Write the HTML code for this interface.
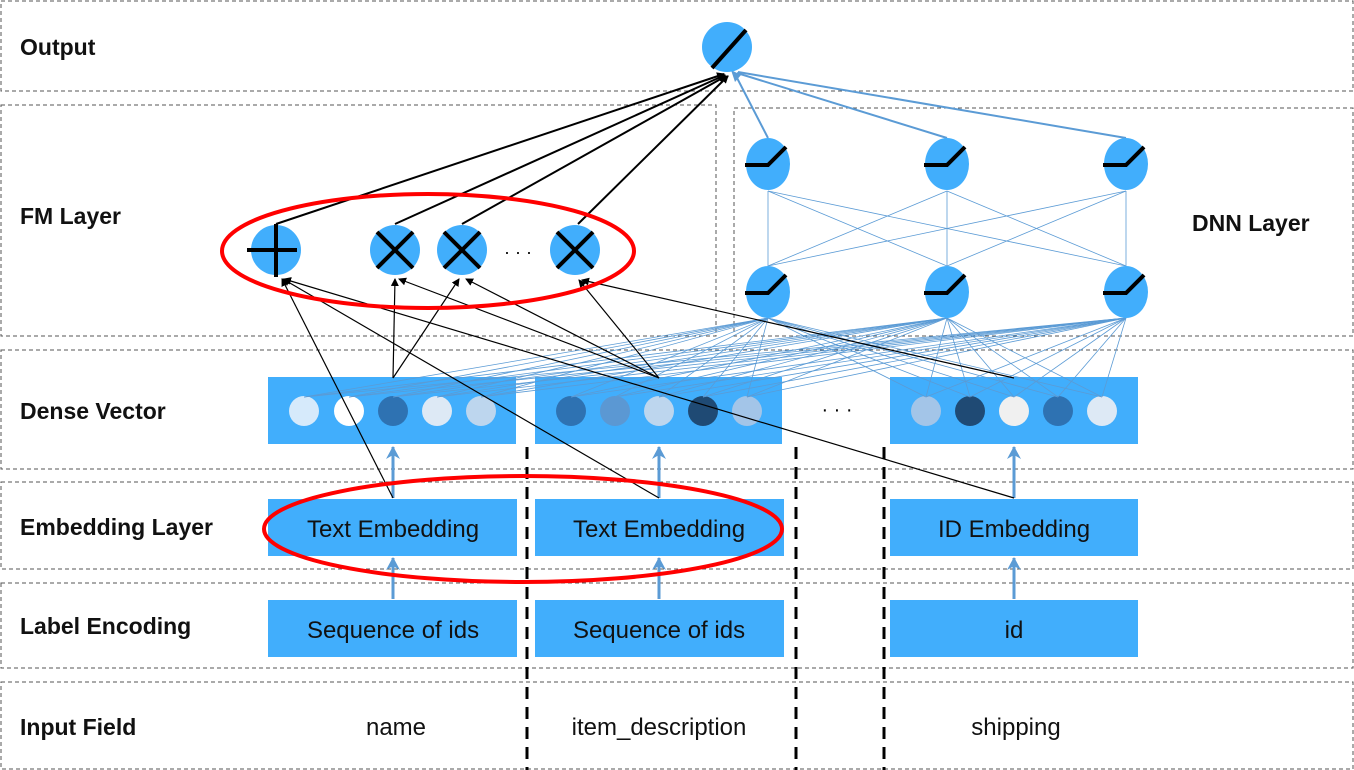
<!DOCTYPE html>
<html><head><meta charset="utf-8"><style>
html,body{margin:0;padding:0;background:#fff;}
svg{display:block;font-family:"Liberation Sans",sans-serif;}
.lab{font-size:23px;font-weight:bold;fill:#111;}
.bt{font-size:24px;fill:#111;text-anchor:middle;}
</style></head><body>
<svg width="1354" height="770" viewBox="0 0 1354 770" xmlns="http://www.w3.org/2000/svg">
<defs>
<marker id="ak" markerWidth="8" markerHeight="8" refX="7" refY="4" orient="auto" markerUnits="userSpaceOnUse"><path d="M0,0 L8,4 L0,8 z" fill="#000"/></marker>
<marker id="ab" markerWidth="14" markerHeight="14" refX="12" refY="7" orient="auto" markerUnits="userSpaceOnUse"><path d="M0,0 L13,7 L0,14 L4,7 z" fill="#5b9bd5"/></marker>
</defs>
<g fill="none" stroke="#555" stroke-width="1" stroke-dasharray="4,3">
<rect x="1" y="1" width="1352" height="90"/>
<rect x="1" y="105" width="715" height="231"/>
<rect x="734" y="108" width="619" height="228"/>
<rect x="1" y="350" width="1352" height="119"/>
<rect x="1" y="482" width="1352" height="87"/>
<rect x="1" y="583" width="1352" height="85"/>
<rect x="1" y="682" width="1352" height="87"/>
</g>
<g stroke="#000" stroke-width="3" stroke-dasharray="12,8">
<line x1="527" y1="447" x2="527" y2="770"/>
<line x1="796" y1="447" x2="796" y2="770"/>
<line x1="884" y1="447" x2="884" y2="770"/>
</g>
<text class="lab" x="20" y="55">Output</text>
<text class="lab" x="20" y="224">FM Layer</text>
<text class="lab" x="1192" y="231">DNN Layer</text>
<text class="lab" x="20" y="419">Dense Vector</text>
<text class="lab" x="20" y="535">Embedding Layer</text>
<text class="lab" x="20" y="634">Label Encoding</text>
<text class="lab" x="20" y="735">Input Field</text>
<!-- boxes -->
<g fill="#41aefc">
<rect x="268" y="377" width="248" height="67"/>
<rect x="535" y="377" width="247" height="67"/>
<rect x="890" y="377" width="248" height="67"/>
<rect x="268" y="499" width="249" height="57"/>
<rect x="535" y="499" width="249" height="57"/>
<rect x="890" y="499" width="248" height="57"/>
<rect x="268" y="600" width="249" height="57"/>
<rect x="535" y="600" width="249" height="57"/>
<rect x="890" y="600" width="248" height="57"/>
</g>
<g>
<circle cx="304" cy="411" r="15" fill="#d6eafb"/><circle cx="349" cy="411" r="15" fill="#fff"/><circle cx="393" cy="411" r="15" fill="#2e72b2"/><circle cx="437" cy="411" r="15" fill="#dde9f5"/><circle cx="481" cy="411" r="15" fill="#bdd6ee"/>
<circle cx="571" cy="411" r="15" fill="#2e72b2"/><circle cx="615" cy="411" r="15" fill="#5b98d3"/><circle cx="659" cy="411" r="15" fill="#bdd6ee"/><circle cx="703" cy="411" r="15" fill="#1f4a74"/><circle cx="747" cy="411" r="15" fill="#a3c5e8"/>
<circle cx="926" cy="411" r="15" fill="#a3c5e8"/><circle cx="970" cy="411" r="15" fill="#1f4a74"/><circle cx="1014" cy="411" r="15" fill="#f0f0f0"/><circle cx="1058" cy="411" r="15" fill="#2e72b2"/><circle cx="1102" cy="411" r="15" fill="#dde9f5"/>
</g>
<text x="837" y="416" font-size="20" text-anchor="middle" fill="#000">· · ·</text>
<text class="bt" x="393" y="537">Text Embedding</text>
<text class="bt" x="659" y="537">Text Embedding</text>
<text class="bt" x="1014" y="537">ID Embedding</text>
<text class="bt" x="393" y="638">Sequence of ids</text>
<text class="bt" x="659" y="638">Sequence of ids</text>
<text class="bt" x="1014" y="638">id</text>
<text class="bt" x="396" y="735">name</text>
<text class="bt" x="659" y="735">item_description</text>
<text class="bt" x="1016" y="735">shipping</text>
<!-- blue vertical arrows -->
<g stroke="#5b9bd5" stroke-width="3" marker-end="url(#ab)">
<line x1="393" y1="498" x2="393" y2="447"/><line x1="659" y1="498" x2="659" y2="447"/><line x1="1014" y1="498" x2="1014" y2="447"/>
<line x1="393" y1="599" x2="393" y2="558"/><line x1="659" y1="599" x2="659" y2="558"/><line x1="1014" y1="599" x2="1014" y2="558"/>
</g>
<!-- DNN dense connections -->
<g stroke="#5b9bd5" stroke-width="0.8">
<line x1="768" y1="318" x2="304" y2="397"/><line x1="768" y1="318" x2="349" y2="397"/><line x1="768" y1="318" x2="393" y2="397"/><line x1="768" y1="318" x2="437" y2="397"/><line x1="768" y1="318" x2="481" y2="397"/>
<line x1="768" y1="318" x2="571" y2="397"/><line x1="768" y1="318" x2="615" y2="397"/><line x1="768" y1="318" x2="659" y2="397"/><line x1="768" y1="318" x2="703" y2="397"/><line x1="768" y1="318" x2="747" y2="397"/>
<line x1="768" y1="318" x2="926" y2="397"/><line x1="768" y1="318" x2="970" y2="397"/><line x1="768" y1="318" x2="1014" y2="397"/><line x1="768" y1="318" x2="1058" y2="397"/><line x1="768" y1="318" x2="1102" y2="397"/>
<line x1="947" y1="318" x2="304" y2="397"/><line x1="947" y1="318" x2="349" y2="397"/><line x1="947" y1="318" x2="393" y2="397"/><line x1="947" y1="318" x2="437" y2="397"/><line x1="947" y1="318" x2="481" y2="397"/>
<line x1="947" y1="318" x2="571" y2="397"/><line x1="947" y1="318" x2="615" y2="397"/><line x1="947" y1="318" x2="659" y2="397"/><line x1="947" y1="318" x2="703" y2="397"/><line x1="947" y1="318" x2="747" y2="397"/>
<line x1="947" y1="318" x2="926" y2="397"/><line x1="947" y1="318" x2="970" y2="397"/><line x1="947" y1="318" x2="1014" y2="397"/><line x1="947" y1="318" x2="1058" y2="397"/><line x1="947" y1="318" x2="1102" y2="397"/>
<line x1="1126" y1="318" x2="304" y2="397"/><line x1="1126" y1="318" x2="349" y2="397"/><line x1="1126" y1="318" x2="393" y2="397"/><line x1="1126" y1="318" x2="437" y2="397"/><line x1="1126" y1="318" x2="481" y2="397"/>
<line x1="1126" y1="318" x2="571" y2="397"/><line x1="1126" y1="318" x2="615" y2="397"/><line x1="1126" y1="318" x2="659" y2="397"/><line x1="1126" y1="318" x2="703" y2="397"/><line x1="1126" y1="318" x2="747" y2="397"/>
<line x1="1126" y1="318" x2="926" y2="397"/><line x1="1126" y1="318" x2="970" y2="397"/><line x1="1126" y1="318" x2="1014" y2="397"/><line x1="1126" y1="318" x2="1058" y2="397"/><line x1="1126" y1="318" x2="1102" y2="397"/>
<line x1="768" y1="191" x2="768" y2="266"/><line x1="768" y1="191" x2="947" y2="266"/><line x1="768" y1="191" x2="1126" y2="266"/>
<line x1="947" y1="191" x2="768" y2="266"/><line x1="947" y1="191" x2="947" y2="266"/><line x1="947" y1="191" x2="1126" y2="266"/>
<line x1="1126" y1="191" x2="768" y2="266"/><line x1="1126" y1="191" x2="947" y2="266"/><line x1="1126" y1="191" x2="1126" y2="266"/>
</g>
<g stroke="#5b9bd5" stroke-width="2">
<line x1="768" y1="138" x2="735" y2="74"/><line x1="947" y1="138" x2="737" y2="73"/><line x1="1126" y1="138" x2="738" y2="72"/>
</g>
<path d="M731,70 L741,75 L735,82 z" fill="#5b9bd5"/>
<!-- FM to output black arrows -->
<g stroke="#000" stroke-width="2" marker-end="url(#ak)">
<line x1="276" y1="224" x2="724" y2="74"/><line x1="395" y1="224" x2="725" y2="75"/><line x1="462" y1="224" x2="726" y2="76"/><line x1="578" y1="224" x2="728" y2="76"/>
</g>
<!-- thin black lines to FM -->
<g stroke="#000" stroke-width="1.2" marker-end="url(#ak)">
<line x1="393" y1="498" x2="282" y2="279"/><line x1="659" y1="498" x2="283" y2="279"/><line x1="1014" y1="498" x2="284" y2="279"/>
<line x1="393" y1="378" x2="395" y2="279"/><line x1="659" y1="378" x2="399" y2="279"/>
<line x1="393" y1="378" x2="459" y2="279"/><line x1="659" y1="378" x2="466" y2="279"/>
<line x1="659" y1="378" x2="579" y2="280"/><line x1="1014" y1="378" x2="582" y2="280"/>
</g>
<!-- Output node -->
<circle cx="727" cy="47" r="25" fill="#41aefc"/>
<line x1="712" y1="68" x2="746" y2="30" stroke="#000" stroke-width="4"/>
<!-- DNN nodes -->
<g fill="#41aefc">
<ellipse cx="768" cy="164" rx="22" ry="26"/><ellipse cx="947" cy="164" rx="22" ry="26"/><ellipse cx="1126" cy="164" rx="22" ry="26"/>
<ellipse cx="768" cy="292" rx="22" ry="26"/><ellipse cx="947" cy="292" rx="22" ry="26"/><ellipse cx="1126" cy="292" rx="22" ry="26"/>
</g>
<g stroke="#000" stroke-width="4" fill="none">
<path d="M745,165 L768,165 L786,147"/><path d="M924,165 L947,165 L965,147"/><path d="M1103,165 L1126,165 L1144,147"/>
<path d="M745,293 L768,293 L786,275"/><path d="M924,293 L947,293 L965,275"/><path d="M1103,293 L1126,293 L1144,275"/>
</g>
<!-- FM nodes -->
<g fill="#41aefc">
<circle cx="276" cy="250" r="25"/><circle cx="395" cy="250" r="25"/><circle cx="462" cy="250" r="25"/><circle cx="575" cy="250" r="25"/>
</g>
<g stroke="#000" stroke-width="4">
<line x1="276" y1="224" x2="276" y2="277"/><line x1="247" y1="250" x2="297" y2="250"/>
<line x1="377" y1="232" x2="413" y2="268"/><line x1="413" y1="232" x2="377" y2="268"/>
<line x1="444" y1="232" x2="480" y2="268"/><line x1="480" y1="232" x2="444" y2="268"/>
<line x1="557" y1="232" x2="593" y2="268"/><line x1="593" y1="232" x2="557" y2="268"/>
</g>
<text x="518" y="258" font-size="18" text-anchor="middle" fill="#000">· · ·</text>
<!-- red ellipses -->
<ellipse cx="428" cy="251" rx="206" ry="57" fill="none" stroke="#f00" stroke-width="4"/>
<ellipse cx="523" cy="529" rx="259" ry="53" fill="none" stroke="#f00" stroke-width="4"/>
</svg>
</body></html>
